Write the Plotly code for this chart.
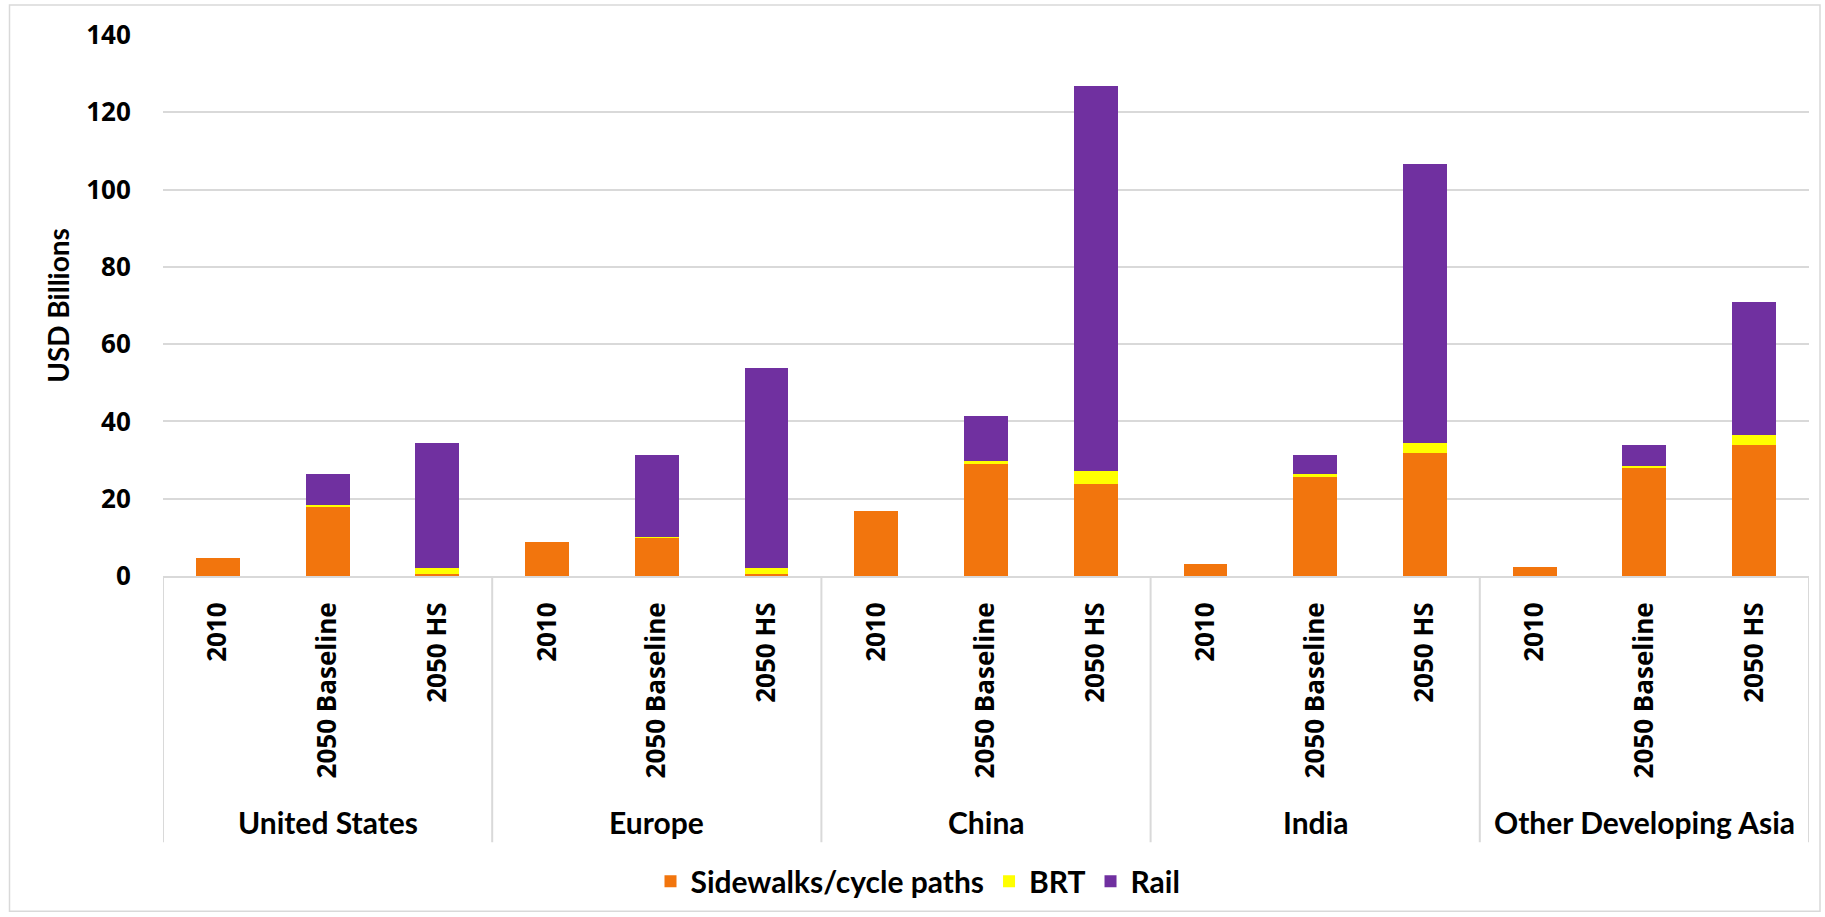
import plotly.graph_objects as go

# ---- data ----
regions = ["United States", "Europe", "China", "India", "Other Developing Asia"]
scenarios = ["2010", "2050 Baseline", "2050 HS"]

sidewalks = [4.6, 18.0, 0.6,
             8.8, 10.0, 0.6,
             16.8, 29.0, 23.9,
             3.0, 25.7, 31.8,
             2.4, 28.1, 33.9]
brt = [0, 0.4, 1.4,
       0, 0.2, 1.4,
       0, 0.7, 3.4,
       0, 0.6, 2.5,
       0, 0.4, 2.5]
rail = [0, 8.0, 32.5,
        0, 21.2, 51.9,
        0, 11.6, 99.5,
        0, 5.0, 72.4,
        0, 5.3, 34.4]

series_names = ["Sidewalks/cycle paths", "BRT", "Rail"]
series_colors = ["#F2750D", "#FFFF00", "#7030A0"]

# ---- geometry helpers (figure pixel -> paper) ----
W, H = 1825, 917
ML, MR, MT, MB = 163, 16, 35, 340.5
PW, PH = W - ML - MR, H - MT - MB


def px_x(px):
    return (px - ML) / PW


def px_y(py):
    return (H - MB - py) / PH


n_sub = len(scenarios)
x_idx = list(range(len(regions) * n_sub))
tick_text = [s for _ in regions for s in scenarios]

fig = go.Figure()
for name, vals, col in zip(series_names, [sidewalks, brt, rail], series_colors):
    fig.add_trace(go.Bar(
        x=x_idx, y=vals, name=name,
        marker=dict(color=col, line=dict(width=0)),
    ))

GRID = "#D9D9D9"
TICKFONT = dict(family="Open Sans", size=26, color="black", weight="bold")
CALFONT = dict(family="Lato", color="black", weight="bold")

shapes = []
# group dividers on the category axis
for g in range(len(regions) + 1):
    xb = g * n_sub - 0.5
    shapes.append(dict(type="line", xref="x", yref="paper",
                       x0=xb, x1=xb, y0=0, y1=px_y(843),
                       line=dict(color=GRID, width=2)))
# outer chart border
shapes.append(dict(type="rect", xref="paper", yref="paper",
                   x0=px_x(9.5), x1=px_x(1820), y0=px_y(912), y1=px_y(5),
                   line=dict(color=GRID, width=1.5), layer="below"))

annotations = []
for g, reg in enumerate(regions):
    annotations.append(dict(
        text=reg, xref="x", yref="paper",
        x=g * n_sub + (n_sub - 1) / 2, y=px_y(823),
        xanchor="center", yanchor="middle", showarrow=False,
        font=dict(size=30, **CALFONT)))

fig.update_layout(
    width=W, height=H,
    margin=dict(l=ML, r=MR, t=MT, b=MB, autoexpand=False),
    paper_bgcolor="white", plot_bgcolor="white",
    barmode="stack", bargap=0.6,
    showlegend=True,
    legend=dict(orientation="h", x=px_x(918), xanchor="center",
                y=px_y(882), yanchor="middle",
                font=dict(size=30, **CALFONT), traceorder="normal",
                bgcolor="rgba(0,0,0,0)"),
    shapes=shapes,
    annotations=annotations,
    xaxis=dict(
        range=[-0.5, len(x_idx) - 0.5],
        tickmode="array", tickvals=x_idx, ticktext=tick_text,
        tickangle=-90, tickfont=TICKFONT,
        ticks="outside", ticklen=14, tickcolor="rgba(0,0,0,0)",
        showgrid=False, zeroline=False,
        showline=True, linecolor=GRID, linewidth=2,
    ),
    yaxis=dict(
        range=[0, 140], dtick=20, tickfont=TICKFONT,
        showgrid=True, gridcolor=GRID, gridwidth=2,
        zeroline=False, showline=False,
        ticks="outside", ticklen=26, tickcolor="rgba(0,0,0,0)",
        title=dict(text="USD Billions", font=dict(size=28, **CALFONT),
                   standoff=8),
    ),
)

fig.write_html("out.html")
